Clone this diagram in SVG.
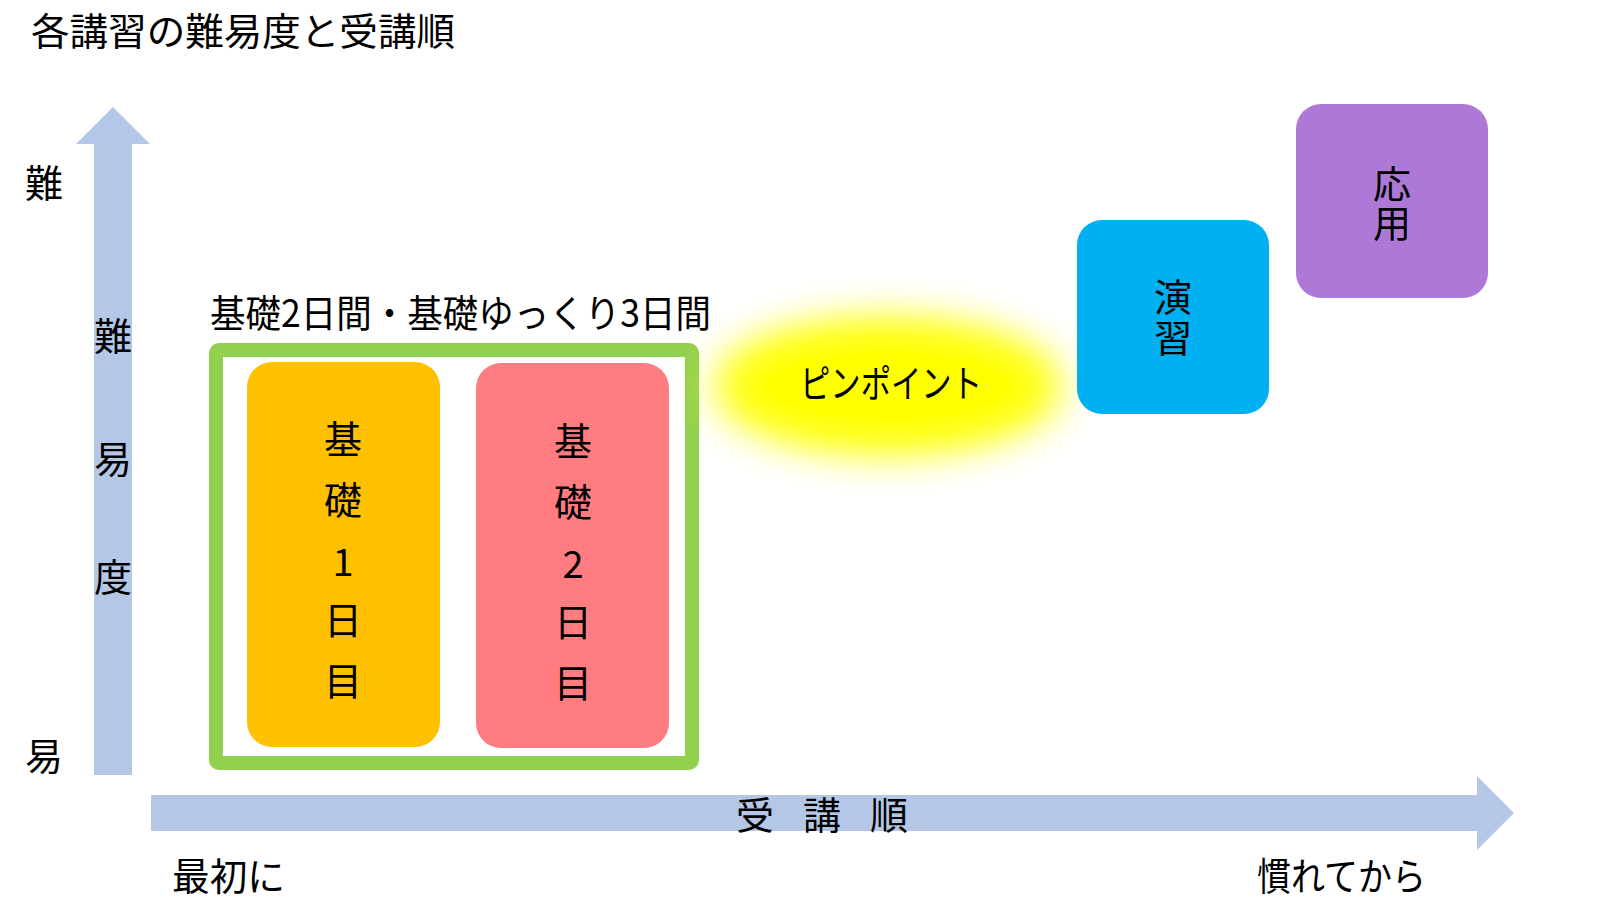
<svg xmlns="http://www.w3.org/2000/svg" width="1605" height="903" viewBox="0 0 1605 903">
  <style>
    text { font-family: "Noto Sans CJK JP", "Noto Sans", sans-serif; fill: #000; }
    .t38 { font-size: 38px; }
    .mid { text-anchor: middle; }
    .axis { fill: #B4C7E7; }
  </style>
  <defs>
    <filter id="glow" x="-50%" y="-80%" width="200%" height="260%">
      <feGaussianBlur stdDeviation="20"/>
    </filter>
  </defs>
  <rect width="1605" height="903" fill="#FFFFFF"/>

  <text id="title" class="t38" x="31" y="45" font-size="40" textLength="424" lengthAdjust="spacingAndGlyphs">各講習の難易度と受講順</text>

  <g id="connectors">
    <polygon class="axis" points="94,775 94,144 76,144 113,107 150,144 132,144 132,775"/>
    <polygon class="axis" points="151,795 1477,795 1477,776 1514,813 1477,850 1477,831 151,831"/>
  </g>

  <g id="axis-labels">
    <text class="t38 mid" x="44" y="197">難</text>
    <text class="t38 mid" x="44" y="770">易</text>
    <text class="t38 mid" x="113" y="350">難</text>
    <text class="t38 mid" x="113" y="473">易</text>
    <text class="t38 mid" x="113" y="591">度</text>
    <text class="t38 mid" x="755" y="829">受</text>
    <text class="t38 mid" x="822" y="829">講</text>
    <text class="t38 mid" x="889" y="829">順</text>
    <text class="t38" x="172" y="890" textLength="113" lengthAdjust="spacingAndGlyphs">最初に</text>
    <text class="t38" x="1257" y="890" textLength="169" lengthAdjust="spacingAndGlyphs">慣れてから</text>
  </g>

  <g id="kiso-group">
    <text class="t38" x="210" y="327" textLength="501" lengthAdjust="spacingAndGlyphs">基礎2日間・基礎ゆっくり3日間</text>
    <rect x="216" y="350" width="476" height="413" rx="3" fill="none" stroke="#92D050" stroke-width="14"/>
  </g>

  <g id="kiso1">
    <rect x="247" y="362" width="193" height="385" rx="25" fill="#FFC000"/>
    <text class="t38 mid" x="343" y="453">基</text>
    <text class="t38 mid" x="343" y="514">礎</text>
    <text class="t38 mid" x="343" y="576">1</text>
    <text class="t38 mid" x="343" y="634">日</text>
    <text class="t38 mid" x="343" y="695">目</text>
  </g>

  <g id="kiso2">
    <rect x="476" y="363" width="193" height="385" rx="25" fill="#FF7C80"/>
    <text class="t38 mid" x="573" y="455">基</text>
    <text class="t38 mid" x="573" y="516">礎</text>
    <text class="t38 mid" x="573" y="578">2</text>
    <text class="t38 mid" x="573" y="636">日</text>
    <text class="t38 mid" x="573" y="697">目</text>
  </g>

  <g id="pinpoint">
    <ellipse cx="888" cy="386" rx="175" ry="68" fill="#FFFF00" opacity="0.85" filter="url(#glow)"/>
    <ellipse cx="888" cy="386" rx="150" ry="50" fill="#FFFF00" filter="url(#glow)"/>
    <ellipse cx="888" cy="386" rx="120" ry="34" fill="#FFFF00"/>
    <text class="t38" x="800" y="397" textLength="182" lengthAdjust="spacingAndGlyphs">ピンポイント</text>
  </g>

  <g id="enshu">
    <rect x="1077" y="220" width="192" height="194" rx="25" fill="#00B0F0"/>
    <text class="t38 mid" x="1173" y="311">演<tspan x="1173" y="352">習</tspan></text>
  </g>

  <g id="ouyou">
    <rect x="1296" y="104" width="192" height="194" rx="25" fill="#AE78D6"/>
    <text class="t38 mid" x="1392" y="198">応<tspan x="1392" y="237">用</tspan></text>
  </g>
</svg>
